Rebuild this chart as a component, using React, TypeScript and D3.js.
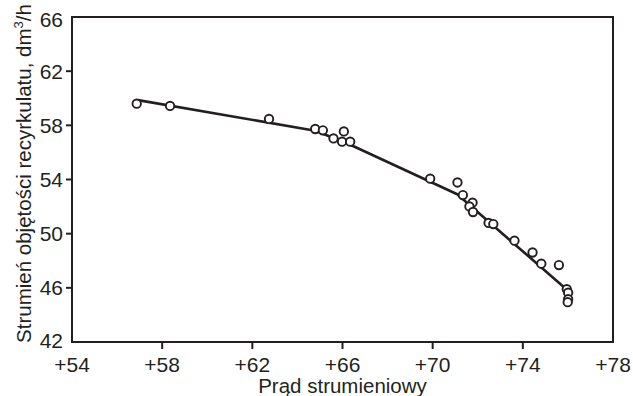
import * as d3 from 'd3';

// Measured points (x: prąd strumieniowy, y: strumień objętości recyrkulatu)
const xValues = [
  56.87, 58.35, 62.74, 64.79, 65.13, 65.6, 66.06, 65.98, 66.34, 69.89, 71.1, 71.34, 71.77,
  71.63, 71.79, 72.48, 72.69, 73.63, 74.43, 74.82, 75.6, 75.95, 76.01, 76.01, 75.99,
];
const yValues = [
  59.6, 59.43, 58.47, 57.73, 57.63, 57.03, 57.55, 56.79, 56.79, 54.06, 53.78, 52.85, 52.29,
  52.01, 51.6, 50.79, 50.71, 49.48, 48.61, 47.78, 47.68, 45.9, 45.64, 45.16, 44.94,
];

// Fitted broken line
const lineX = [56.93, 64.79, 66.25, 71.09, 75.93];
const lineY = [59.86, 57.6, 56.64, 52.91, 45.9];

const xTicks = [54, 58, 62, 66, 70, 74, 78];
const yTicks = [42, 46, 50, 54, 58, 62, 66];

const width = 633;
const height = 396;
const margin = { top: 17, right: 20, bottom: 54, left: 72 };
const ink = '#231f20';
const font = '"Liberation Sans", Arial, sans-serif';

export default function App() {
  const innerW = width - margin.left - margin.right;
  const innerH = height - margin.top - margin.bottom;

  const x = d3.scaleLinear().domain([54, 78]).range([0, innerW]);
  const y = d3.scaleLinear().domain([42, 66]).range([innerH, 0]);

  const points = xValues.map((v, i) => ({ x: v, y: yValues[i] }));
  const linePts = lineX.map((v, i) => [v, lineY[i]] as [number, number]);
  const path = d3
    .line<[number, number]>()
    .x((d) => x(d[0]))
    .y((d) => y(d[1]))(linePts);

  // end labels sit slightly inside the frame corners
  const yLabelShift = (t: number) => (t === 66 ? 2 : t === 42 ? -2 : 0);

  return (
    <svg
      width={width}
      height={height}
      style={{ position: 'absolute', left: 0, top: 0, background: '#fff' }}
      fontFamily={font}
    >
      <g transform={`translate(${margin.left},${margin.top})`}>
        <rect width={innerW} height={innerH} fill="none" stroke={ink} strokeWidth={2} />

        {/* X axis ticks */}
        {xTicks.map((t) => (
          <g key={t} transform={`translate(${x(t)},${innerH})`}>
            {t !== 54 && t !== 78 && <line y2={7} stroke={ink} strokeWidth={2} />}
            <text y={30} textAnchor="middle" fontSize={21} fill={ink}>
              {`+${t}`}
            </text>
          </g>
        ))}

        {/* Y axis ticks */}
        {yTicks.map((t) => (
          <g key={t} transform={`translate(0,${y(t) + yLabelShift(t)})`}>
            {t !== 42 && t !== 66 && <line x2={-6} stroke={ink} strokeWidth={2} />}
            <text x={-9} dy="0.36em" textAnchor="end" fontSize={21} fill={ink}>
              {t}
            </text>
          </g>
        ))}

        <path d={path ?? ''} fill="none" stroke={ink} strokeWidth={2.6} strokeLinejoin="round" />

        {points.map((d, i) => (
          <circle
            key={i}
            cx={x(d.x)}
            cy={y(d.y)}
            r={4.2}
            fill="#fff"
            stroke={ink}
            strokeWidth={1.9}
          />
        ))}

        <text x={innerW / 2} y={innerH + 51} textAnchor="middle" fontSize={20.5} fill={ink}>
          Prąd strumieniowy
        </text>

        <text
          transform={`translate(${-41},${innerH / 2 - 6}) rotate(-90)`}
          textAnchor="middle"
          fontSize={20.5}
          fill={ink}
        >
          Strumień objętości recyrkulatu, dm
          <tspan fontSize={13} dy={-8}>3</tspan>
          <tspan dy={8}>/h</tspan>
        </text>
      </g>
    </svg>
  );
}
